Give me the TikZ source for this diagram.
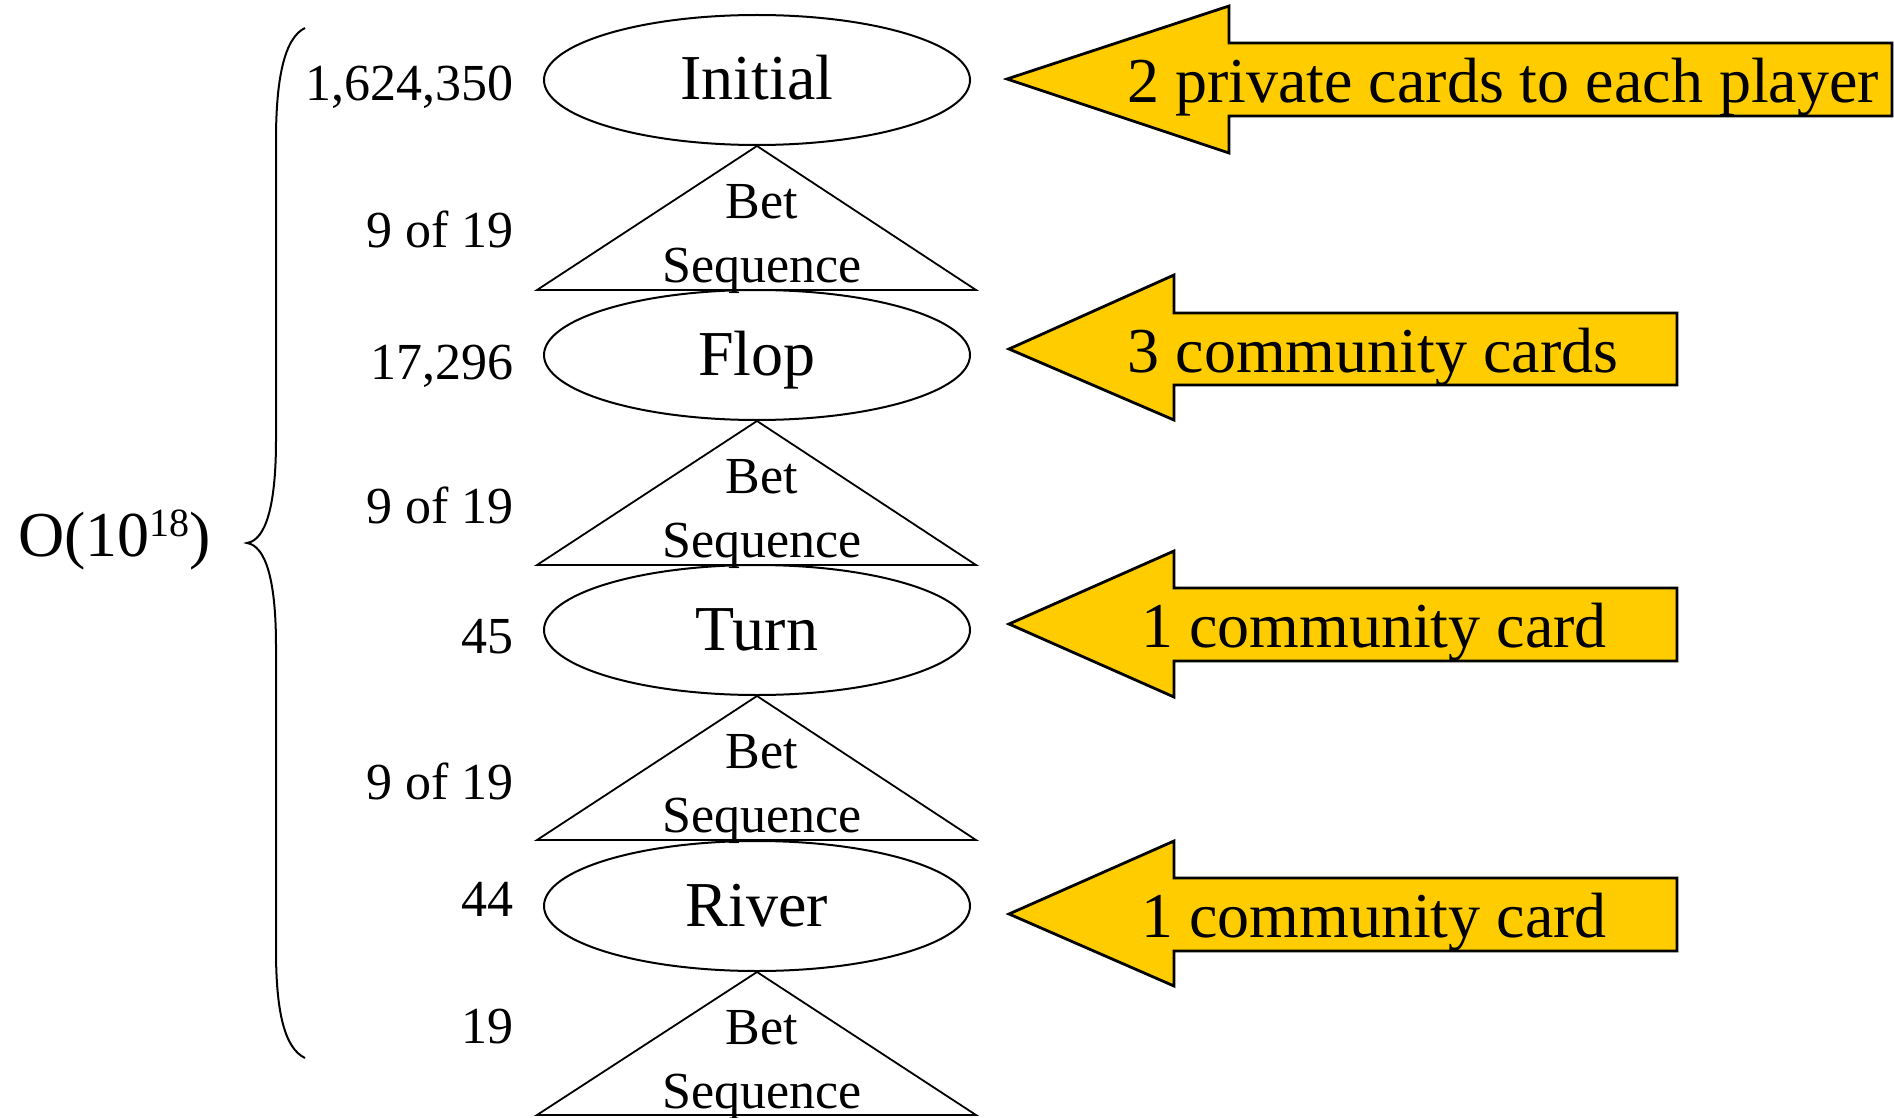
\documentclass[tikz,border=0pt]{standalone}
\usepackage{fontspec}
\setmainfont{Liberation Serif}
\usetikzlibrary{shapes.geometric}
\definecolor{cardyellow}{HTML}{FFCC00}
\tikzset{
  stage/.style={draw, ellipse, line width=1pt, minimum width=213pt, minimum height=65pt, inner sep=0pt,
    font=\fontsize{32}{38}\selectfont, text height=20pt, text depth=0pt},
  betseq/.style={draw, line width=0.9pt},
  betlabel/.style={align=center, anchor=base, font=\fontsize{26}{32}\selectfont},
  count/.style={anchor=base east, inner sep=0pt, font=\fontsize{26}{32}\selectfont},
  deal/.style={draw, fill=cardyellow, line width=1.4pt},
  dealtext/.style={anchor=base, font=\fontsize{32}{38}\selectfont}
}
\begin{document}
\begin{tikzpicture}[x=0.5pt, y=-0.5pt]
\useasboundingbox (0,0) rectangle (1894,1118);

% stages of the hand
\node[stage] (s1) at (757,80) {Initial};
\node[stage] (s2) at (757,355) {Flop};
\node[stage] (s3) at (757,630) {Turn};
\node[stage] (s4) at (757,906) {River};

% betting rounds
\draw[betseq] (s1.south) -- (976,290) -- (537,290) -- cycle;
\draw[betseq] (s2.south) -- (976,565) -- (537,565) -- cycle;
\draw[betseq] (s3.south) -- (976,840) -- (537,840) -- cycle;
\draw[betseq] (s4.south) -- (976,1115) -- (537,1115) -- cycle;

\node[betlabel] (b1) at (762,282) {Bet\\Sequence};
\node[betlabel] (b2) at (762,557) {Bet\\Sequence};
\node[betlabel] (b3) at (762,832) {Bet\\Sequence};
\node[betlabel] (b4) at (762,1108) {Bet\\Sequence};

% counts on the left
\node[count] (c1) at (514,101) {1,624,350};
\node[count] (c2) at (514,248) {9 of 19};
\node[count] (c3) at (514,379) {17,296};
\node[count] (c4) at (514,523) {9 of 19};
\node[count] (c5) at (514,653) {45};
\node[count] (c6) at (514,799) {9 of 19};
\node[count] (c7) at (514,916) {44};
\node[count] (c8) at (514,1043) {19};

% brace and total
\draw[line width=1pt] (305,28) .. controls (284,38) and (276,80) .. (276,140) -- (276,440)
  .. controls (276,505) and (266,540) .. (247,543) .. controls (266,546) and (276,581) .. (276,646)
  -- (276,950) .. controls (276,1010) and (284,1048) .. (305,1058);
\node[anchor=base west, inner sep=0pt, font=\fontsize{32}{38}\selectfont] (total) at (18,556)
  {O(10\raisebox{0.3em}{\fontsize{20}{20}\selectfont 18})};

% cards dealt
\draw[deal] (1007,79) -- (1229,6) -- (1229,43) -- (1892,43) -- (1892,116) -- (1229,116) -- (1229,153) -- cycle;
\draw[deal] (1009,349) -- (1174,275) -- (1174,313) -- (1677,313) -- (1677,385) -- (1174,385) -- (1174,420) -- cycle;
\draw[deal] (1009,624) -- (1174,551) -- (1174,588) -- (1677,588) -- (1677,661) -- (1174,661) -- (1174,697) -- cycle;
\draw[deal] (1009,914) -- (1174,841) -- (1174,878) -- (1677,878) -- (1677,951) -- (1174,951) -- (1174,986) -- cycle;

\node[dealtext] (d1) at (1503,103) {2 private cards to each player};
\node[dealtext] (d2) at (1373,372) {3 community cards};
\node[dealtext] (d3) at (1374,647) {1 community card};
\node[dealtext] (d4) at (1374,937) {1 community card};
\end{tikzpicture}
\end{document}
